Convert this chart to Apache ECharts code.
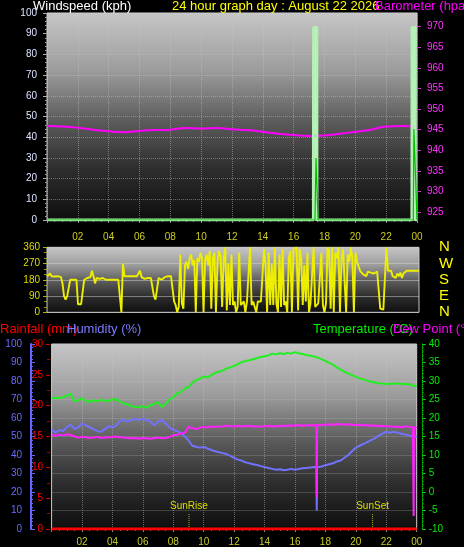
<!DOCTYPE html>
<html><head><meta charset="utf-8">
<script src="https://cdn.jsdelivr.net/npm/echarts@6/dist/echarts.min.js"></script>
<style>html,body{margin:0;padding:0;background:#000}#c{width:464px;height:547px}</style>
</head><body><div id="c"></div>
<script>
// ---------- data ----------
const hourLabels = ['', '02', '04', '06', '08', '10', '12', '14', '16', '18', '20', '22', '00'];
const baroTicks = [925, 930, 935, 940, 945, 950, 955, 960, 965, 970];
const dirTickLabels = { 0: 'N', 90: 'E', 180: 'S', 270: 'W', 360: 'N' };

// barometer (hPa), hourly 0..24
const baroValues = [945.9, 945.8, 945.5, 945.0, 944.6, 944.4, 944.7, 944.9, 945.0, 945.4, 945.3, 945.4, 945.1,
  944.9, 944.5, 944.0, 943.7, 943.5, 943.6, 944.0, 944.5, 945.0, 945.8, 945.9, 945.7];

// wind gust / speed (kph)
const gustHours = [0, 17.28, 17.29, 17.5, 17.51, 23.67, 23.68, 23.88, 23.89, 24];
const gustValues = [0, 0, 93, 93, 0, 0, 93, 93, 0, 0];
const speedHours = [0, 17.38, 17.45, 17.58, 23.76, 23.8, 24];
const speedValues = [0, 0, 30, 0, 0, 44, 0];

// wind direction (deg), every 0.1 h
const windDir = [
  200,200,215,200,200,198,200,200,200,195,
  160,90,70,90,95,180,180,180,180,180,
  45,45,45,45,180,190,190,200,195,230,
  200,160,190,190,185,185,190,180,180,180,
  180,180,180,180,180,180,180,175,0,270,
  200,200,200,200,200,200,200,200,200,205,
  230,195,185,185,190,190,185,190,190,90,
  70,75,190,190,180,190,195,195,200,200,
  200,200,60,40,0,30,320,50,20,260,
  280,240,300,320,260,290,0,300,280,330,
  300,0,290,320,260,340,20,300,330,0,
  280,340,310,30,300,360,10,270,40,320,
  40,60,0,30,330,40,40,60,0,60,
  50,360,40,60,70,0,60,70,60,50,
  350,260,0,330,40,270,40,360,50,0,
  320,30,350,40,60,0,300,340,0,350,
  360,360,10,350,300,40,260,60,330,0,
  50,40,360,30,40,50,40,330,40,0,
  50,360,340,20,360,0,330,300,360,0,
  300,350,340,0,320,280,360,300,0,330,
  280,270,230,220,210,220,200,225,215,220,
  220,215,220,225,215,20,25,15,10,360,
  230,225,230,200,210,190,215,200,220,190,
  215,225,230,230,230,230,230,230,230,230,
  230
];

// temperature (°C), every 0.25 h
const tempValues = [
  25.3,25.5,25.4,25.6, 26.0,26.6,24.5,24.8, 25.4,24.6,24.4,24.8, 24.5,24.9,24.7,24.6,
  25.0,25.1,24.4,23.9, 23.7,23.2,23.0,22.9, 23.2,22.8,23.5,23.8, 24.3,23.0,23.8,25.0,
  25.6,26.7,27.0,28.0, 28.3,29.5,30.3,30.6, 31.2,31.0,31.6,32.2, 32.5,32.8,33.4,33.7,
  34.1,34.6,35.1,35.4, 35.6,35.9,36.2,36.5, 36.7,36.9,37.4,37.2, 37.5,37.3,37.6,37.4,
  37.8,37.5,37.3,37.0, 36.8,36.6,36.3,35.9, 35.4,34.9,34.4,33.7, 33.1,32.5,32.0,31.6,
  31.1,30.7,30.4,30.1, 29.8,29.6,29.4,29.3, 29.2,29.2,29.3,29.3, 29.2,29.2,29.1,28.8,
  28.6
];
// humidity (%), every 0.25 h
const humValues = [
  54,52,53.5,53, 55,56.5,54,55, 57,56,55,54, 53,52.5,54,55.5,
  55,56,58.5,59, 58,59,59.5,59, 59.5,59,58,56, 58,59,57,55,
  53.5,53,52,50, 48,45,44.5,44, 44.5,43.5,42.7,42, 41.5,41,40.5,39.5,
  38.5,37.5,37,36, 35.5,35,34.6,34, 33.5,33,32.5,32, 32.3,31.8,32,32.5,
  32,32.4,32.8,33, 33.2,33.5,33.3,33.8, 34.5,35,35.5,36.5, 37,38.5,40,42,
  44,45,46,47, 48,49,50.5,51.5, 52.5,52,52.5,52, 51.5,51,50.5,50,
  50
];
// dew point (°C), every 0.25 h
const dewValues = [
  15.4,15.2,15.5,15.3, 15.6,15.4,15.0,14.7, 14.9,14.8,14.6,14.7, 14.9,14.6,14.8,14.7,
  14.9,15.0,14.8,14.7, 14.6,14.5,14.6,14.4, 14.6,14.5,14.4,14.6, 14.7,14.5,14.6,14.9,
  15.3,15.5,15.8,16.0, 17.6,17.3,17.0,17.4, 17.6,17.5,17.7,17.6, 17.8,17.6,18.0,17.8,
  17.7,17.9,17.7,17.8, 17.9,17.7,17.8,17.6, 17.8,17.9,17.7,17.8, 17.9,17.8,18.0,17.9,
  18.0,18.1,17.9,18.0, 18.1,18.0,18.2,18.1, 18.2,18.3,18.2,18.4, 18.3,18.2,18.3,18.2,
  18.1,18.2,18.0,18.1, 17.9,18.0,17.8,17.9, 17.7,17.8,17.6,17.7, 17.5,17.8,17.6,17.5,
  17.4
];
const humSpikeHours = [17.41, 17.43, 17.45];
const humSpikeValues = [33.4, 10, 33.4];
const dewSpikeHours = [17.41, 17.43, 17.45, 23.78, 23.8, 23.82];
const dewSpikeValues = [18.1, -1.5, 18.1, 17.5, -6.5, 17.5];

const rainHours = [0, 24];
const rainValues = [0, 0];

const sunLabels = ['SunRise', 'SunSet'];
const sunHours = [9.03, 21.1];
const sunMarkHeight = 8.6; // humidity units

// ---------- helpers ----------
function zip(h, v) { return h.map((x, i) => [x, v[i]]); }
function stepped(v, step) { return v.map((y, i) => [i * step, y]); }
function merge(a, b) { return a.concat(b).sort((p, q) => p[0] - q[0]); }

const FONT = '"Liberation Sans", Arial, sans-serif';
function bg() {
  return { type: 'linear', x: 0, y: 0, x2: 0, y2: 1, colorStops: [
    { offset: 0, color: '#c6c6c6' }, { offset: 0.28, color: '#9c9c9c' },
    { offset: 0.52, color: '#5c5c5c' }, { offset: 0.75, color: '#2e2e2e' }, { offset: 1, color: '#0e0e0e' }] };
}
const dotted = { color: 'rgba(200,200,200,0.45)', type: 'dotted', width: 1 };
const hourFmt = v => hourLabels[Math.round(v / 2)] || '';

const chart = echarts.init(document.getElementById('c'), null, { renderer: 'canvas' });
const option = {
  backgroundColor: '#000',
  animation: false,
  textStyle: { fontFamily: FONT },
  grid: [
    { left: 47, right: 47, top: 13, height: 207, show: true, backgroundColor: bg(), borderColor: '#d0d0d0', borderWidth: 1, outerBoundsMode: 'none' },
    { left: 47, right: 45, top: 247.3, height: 65, show: true, backgroundColor: bg(), borderColor: '#c8c8c8', borderWidth: 1, outerBoundsMode: 'none' },
    { left: 51.6, right: 47.3, top: 344, height: 185, show: true, backgroundColor: bg(), borderColor: '#c8c8c8', borderWidth: 1, outerBoundsMode: 'none' }
  ],
  xAxis: [
    { gridIndex: 0, type: 'value', min: 0, max: 24, interval: 2,
      axisLine: { show: false },
      axisTick: { show: true, length: 3, lineStyle: { color: '#888' } },
      minorTick: { show: true, splitNumber: 4, length: 2, lineStyle: { color: '#777' } },
      axisLabel: { color: '#cccc22', fontSize: 10, margin: 12, formatter: hourFmt },
      splitLine: { show: true, lineStyle: dotted } },
    { gridIndex: 1, type: 'value', min: 0, max: 24, interval: 2,
      axisLine: { show: false }, axisTick: { show: false }, axisLabel: { show: false }, splitLine: { show: false } },
    { gridIndex: 2, type: 'value', min: 0, max: 24, interval: 2,
      axisLine: { show: false },
      axisTick: { show: true, length: 3, lineStyle: { color: '#888' } },
      minorTick: { show: true, splitNumber: 4, length: 2, lineStyle: { color: '#777' } },
      axisLabel: { color: '#cccc22', fontSize: 10, margin: 8, formatter: hourFmt },
      splitLine: { show: true, lineStyle: dotted } }
  ],
  yAxis: [
    { gridIndex: 0, position: 'left', min: 0, max: 100, interval: 10,
      axisLine: { show: false, onZero: false },
      axisTick: { show: true, length: 4, lineStyle: { color: '#aaa' } },
      minorTick: { show: true, splitNumber: 5, length: 2, lineStyle: { color: '#999' } },
      axisLabel: { color: '#dde4ff', fontSize: 10, margin: 10 },
      splitLine: { show: true, lineStyle: dotted } },
    { gridIndex: 0, position: 'right', min: 923.1, max: 973.3,
      axisLine: { show: false, onZero: false },
      axisTick: { show: true, length: 4, customValues: baroTicks, lineStyle: { color: '#cc33cc' } },
      axisLabel: { color: '#ff33ff', fontSize: 10, margin: 10, customValues: baroTicks },
      splitLine: { show: false } },
    { gridIndex: 1, position: 'left', min: 0, max: 360, interval: 90,
      axisLine: { show: false, onZero: false },
      axisTick: { show: true, length: 4, lineStyle: { color: '#aaaa22' } },
      minorTick: { show: true, splitNumber: 3, length: 3, lineStyle: { color: '#999922' } },
      axisLabel: { color: '#dddd00', fontSize: 10, margin: 7 },
      splitLine: { show: true, lineStyle: { color: 'rgba(210,210,210,0.5)', width: 1 } } },
    { gridIndex: 1, position: 'right', min: 0, max: 360, interval: 90,
      axisLine: { show: false, onZero: false }, axisTick: { show: false }, splitLine: { show: false },
      axisLabel: { color: '#ffff00', fontSize: 15, margin: 20, formatter: v => dirTickLabels[v] } },
    { gridIndex: 2, position: 'left', offset: 20.6, min: 0, max: 100, interval: 10,
      axisLine: { show: true, onZero: false, lineStyle: { color: '#6666ff', width: 2 } },
      axisTick: { show: true, inside: true, length: 4, lineStyle: { color: '#6666ff' } },
      minorTick: { show: true, splitNumber: 5, length: 2, lineStyle: { color: '#6666ff' } },
      axisLabel: { color: '#6a6aff', fontSize: 10, margin: 9 },
      splitLine: { show: true, lineStyle: dotted } },
    { gridIndex: 2, position: 'left', offset: 1.5, min: 0, max: 30, interval: 5,
      axisLine: { show: false, onZero: false },
      axisTick: { show: true, length: 4, lineStyle: { color: '#dd0000' } },
      minorTick: { show: true, splitNumber: 2, length: 3, lineStyle: { color: '#aa0000' } },
      axisLabel: { color: '#ff0000', fontSize: 10, margin: 7 },
      splitLine: { show: false } },
    { gridIndex: 2, position: 'right', offset: 6, min: -10, max: 40, interval: 5,
      axisLine: { show: true, onZero: false, lineStyle: { color: '#00cc00', type: 'dotted', width: 1 } },
      axisTick: { show: true, length: 3, lineStyle: { color: '#00dd00' } },
      minorTick: { show: true, splitNumber: 5, length: 1, lineStyle: { color: '#00aa00' } },
      axisLabel: { color: '#00ee00', fontSize: 10, margin: 6 },
      splitLine: { show: false } }
  ],
  series: [
    { name: 'Barometer', type: 'line', xAxisIndex: 0, yAxisIndex: 1, smooth: true, showSymbol: false,
      data: stepped(baroValues, 1), lineStyle: { color: '#ff00ff', width: 2 } },
    { name: 'Gust', type: 'line', xAxisIndex: 0, yAxisIndex: 0, showSymbol: false,
      data: zip(gustHours, gustValues), lineStyle: { color: '#b4f0b4', width: 3 },
      areaStyle: { color: '#e8fde8', opacity: 0.9 } },
    { name: 'Speed', type: 'line', xAxisIndex: 0, yAxisIndex: 0, showSymbol: false,
      data: zip(speedHours, speedValues), lineStyle: { color: '#00c000', width: 1.2 } },
    { name: 'Direction', type: 'line', xAxisIndex: 1, yAxisIndex: 2, showSymbol: false,
      data: stepped(windDir, 0.1), lineStyle: { color: '#eeee00', width: 1.9 } },
    { name: 'Humidity', type: 'line', xAxisIndex: 2, yAxisIndex: 4, showSymbol: false,
      data: merge(stepped(humValues, 0.25), zip(humSpikeHours, humSpikeValues)), lineStyle: { color: '#7272ff', width: 2 } },
    { name: 'Dew Point', type: 'line', xAxisIndex: 2, yAxisIndex: 6, showSymbol: false,
      data: merge(stepped(dewValues, 0.25), zip(dewSpikeHours, dewSpikeValues)), lineStyle: { color: '#ff22ff', width: 2 } },
    { name: 'Temperature', type: 'line', xAxisIndex: 2, yAxisIndex: 6, showSymbol: false,
      data: stepped(tempValues, 0.25), lineStyle: { color: '#22ee22', width: 2 } },
  ].concat(sunLabels.map((lab, i) => ({
      name: lab, type: 'line', xAxisIndex: 2, yAxisIndex: 4, symbol: 'none',
      lineStyle: { color: '#aaaa22', width: 1, type: 'dotted' },
      data: [[sunHours[i], 0], { value: [sunHours[i], sunMarkHeight], symbol: 'circle', symbolSize: 1,
        itemStyle: { color: 'rgba(0,0,0,0)' },
        label: { show: true, position: 'top', distance: 1, formatter: lab, color: '#dddd00', fontSize: 10 } }]
    }))).concat([
    { name: 'Rainfall', type: 'line', xAxisIndex: 2, yAxisIndex: 5, showSymbol: false,
      data: zip(rainHours, rainValues), lineStyle: { color: '#ff0000', width: 3 } }
  ]),
  graphic: [
    { type: 'text', style: { text: 'Windspeed (kph)', x: 33, y: 6.5, fill: '#ffffff', font: '13px ' + FONT, verticalAlign: 'middle' } },
    { type: 'text', style: { text: '24 hour graph day : August 22 2026', x: 172, y: 6.5, fill: '#ffff00', font: '13px ' + FONT, verticalAlign: 'middle' } },
    { type: 'text', style: { text: 'Barometer (hpa)', x: 375, y: 6.5, fill: '#ff00ff', font: '13px ' + FONT, verticalAlign: 'middle' } },
    { type: 'text', style: { text: 'Rainfall (mm)', x: 0, y: 329, fill: '#ff0000', font: '13px ' + FONT, verticalAlign: 'middle' } },
    { type: 'text', style: { text: 'Humidity (%)', x: 67, y: 329, fill: '#7b7bff', font: '13px ' + FONT, verticalAlign: 'middle' } },
    { type: 'text', style: { text: 'Temperature (°C)', x: 313, y: 329, fill: '#00ee00', font: '13px ' + FONT, verticalAlign: 'middle' } },
    { type: 'text', style: { text: 'Dew Point (°C)', x: 393, y: 329, fill: '#ff00ff', font: '13px ' + FONT, verticalAlign: 'middle' } }
  ]
};
chart.setOption(option);
</script>
</body></html>
